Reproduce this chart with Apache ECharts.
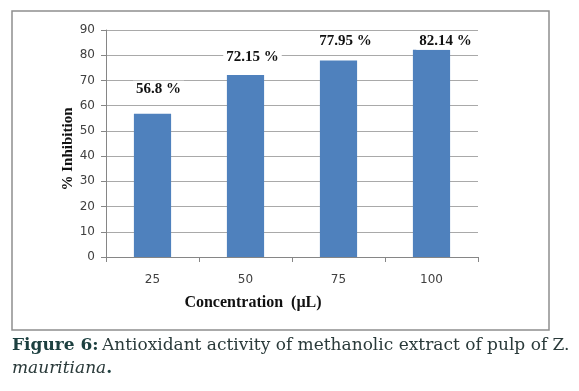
<!DOCTYPE html>
<html><head><meta charset="utf-8">
<script src="https://cdn.jsdelivr.net/npm/echarts@6/dist/echarts.min.js"></script>
<style>html,body{margin:0;padding:0;background:#fff}#c{width:579px;height:391px}</style>
</head><body><div id="c"></div>
<script>
const categories = ['25', '50', '75', '100'];
const inhibition = [56.8, 72.15, 77.95, 82.14];
const valueLabels = ['56.8 %', '72.15 %', '77.95 %', '82.14 %'];
const yTicks = { min: 0, max: 90, interval: 10 };

const labelShift = [[6, -16], [7, -9], [7, -11], [14, 0]];

const chart = echarts.init(document.getElementById('c'), null, { renderer: 'canvas' });
chart.setOption({
  animation: false,
  backgroundColor: '#fff',
  grid: { left: 106, right: 101, top: 30, bottom: 134, containLabel: false },
  xAxis: {
    type: 'category', data: categories,
    axisLine: { lineStyle: { color: '#868686', width: 1 } },
    axisTick: { show: true, length: 5, inside: false, lineStyle: { color: '#868686' } },
    axisLabel: { margin: 17, color: '#404040', fontFamily: 'DejaVu Sans', fontSize: 12 }
  },
  yAxis: {
    type: 'value', min: yTicks.min, max: yTicks.max, interval: yTicks.interval,
    axisLine: { show: true, lineStyle: { color: '#868686', width: 1 } },
    axisTick: { show: true, length: 5, lineStyle: { color: '#868686' } },
    axisLabel: { margin: 11, color: '#404040', fontFamily: 'DejaVu Sans', fontSize: 12 },
    splitLine: { lineStyle: { color: '#a9a9a9', width: 1 } }
  },
  series: [{
    type: 'bar', barWidth: '40%',
    itemStyle: { color: '#4f81bd' },
    data: inhibition.map((v, i) => ({
      value: v,
      label: {
        show: true, position: 'top', distance: 0,
        offset: labelShift[i],
        formatter: () => valueLabels[i],
        fontFamily: 'Liberation Serif', fontWeight: 'bold', fontSize: 15, color: '#111',
        backgroundColor: '#fff', padding: [1, 3]
      }
    }))
  }],
  graphic: [
    { type: 'rect', shape: { x: 12, y: 11, width: 537, height: 319 },
      style: { fill: 'none', stroke: '#8f8f8f', lineWidth: 1.5 }, z: 100 },
    { type: 'text', x: 253, y: 303, style: { text: 'Concentration  (µL)', font: 'bold 16px "Liberation Serif"', fill: '#111', textAlign: 'center', textVerticalAlign: 'middle' } },
    { type: 'text', x: 68, y: 149, rotation: Math.PI / 2, style: { text: '% Inhibition', font: 'bold 15px "Liberation Serif"', fill: '#111', textAlign: 'center', textVerticalAlign: 'middle' } },
    { type: 'text', x: 12, y: 346, style: {
        text: '{b|Figure 6:} {r|Antioxidant activity of methanolic extract of pulp of Z.}',
        rich: {
          b: { font: 'bold 17px "DejaVu Serif"', fill: '#1d4040' },
          r: { font: '17px "DejaVu Serif"', fill: '#2a3a3a' }
        }, textVerticalAlign: 'middle' } },
    { type: 'text', x: 12, y: 369, style: {
        text: '{i|mauritiana}{b|.}',
        rich: {
          i: { font: 'italic 17px "DejaVu Serif"', fill: '#2a3a3a' },
          b: { font: 'bold 17px "DejaVu Serif"', fill: '#1d4040' }
        }, textVerticalAlign: 'middle' } }
  ]
});
</script></body></html>
